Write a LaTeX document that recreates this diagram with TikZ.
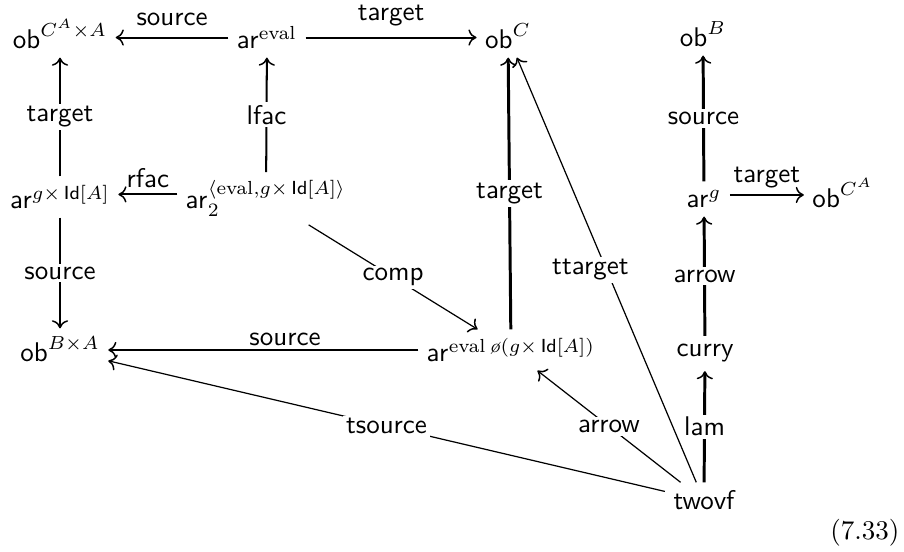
\documentclass[tikz,border=0pt]{standalone}
\usepackage{amsmath}
\usetikzlibrary{arrows.meta}
\begin{document}
\begin{tikzpicture}[x=0.37pt,y=-0.37pt,
  >={Computer Modern Rightarrow[length=3pt,width=6pt,line width=0.55pt]},
  obj/.style={anchor=base,inner sep=3pt},
  lbl/.style={font=\sffamily,fill=white,inner sep=1pt},
  lblab/.style={font=\sffamily,above,inner sep=2pt},
  med/.style={->,line width=0.75pt},
  thk/.style={->,line width=1.1pt},
  thn/.style={->,line width=0.45pt}]
\useasboundingbox (0,0) rectangle (904,552);
\node[obj] (obCAA) at (60,49) {$\mathsf{ob}^{C^A\times A}$};
\node[obj] (areval) at (267,49) {$\mathsf{ar}^{\mathrm{eval}}$};
\node[obj] (obC) at (508,49) {$\mathsf{ob}^{C}$};
\node[obj] (obB) at (703,47) {$\mathsf{ob}^{B}$};
\node[obj] (argId) at (60,209) {$\mathsf{ar}^{g\times\,\mathsf{Id}[A]}$};
\node[obj] (ar2) at (266,209) {$\mathsf{ar}_2^{\langle\mathrm{eval},g\times\,\mathsf{Id}[A]\rangle}$};
\node[obj] (arg) at (704,208) {$\mathsf{ar}^{g}$};
\node[obj] (obCA) at (843,208) {$\mathsf{ob}^{C^A}$};
\node[obj] (obBA) at (60,362) {$\mathsf{ob}^{B\times A}$};
\node[obj] (arcomp) at (511,362) {$\mathsf{ar}^{\mathrm{eval}\,\text{\itshape\o}(g\times\,\mathsf{Id}[A])}$};
\node[obj,font=\sffamily] (curry) at (705,357) {curry};
\node[obj,font=\sffamily] (twovf) at (704,510) {twovf};
\node[anchor=base east,inner sep=0pt] (eqno) at (900,540) {(7.33)};

\draw[med] (areval.west) -- (obCAA.east |- areval.west) node[lblab,midway,yshift=2pt] {source};
\draw[med] (areval.east) -- (obC.west |- areval.east) node[lblab,midway,yshift=2pt] {target};
\draw[med] (argId) -- (obCAA) node[lbl,midway] {target};
\draw[med] (ar2) -- (areval) node[lbl,midway] {lfac};
\draw[med] ([yshift=1.5pt]ar2.west) -- ([yshift=1.5pt]argId.east |- ar2.west) node[lblab,midway] {rfac};
\draw[med] (argId) -- (obBA) node[lbl,midway] {source};
\draw[thn] (ar2) -- (arcomp) node[lbl,midway] {comp};
\draw[thk] (arcomp) -- (obC) node[lbl,midway] {target};
\draw[thk] (arcomp.west) -- (obBA.east |- arcomp.west) node[lblab,pos=0.43,yshift=-1pt] {source};
\draw[thn] (twovf) -- (obBA) node[lbl,midway] {tsource};
\draw[thn] (twovf) -- (arcomp) node[lbl,midway] {arrow};
\draw[thn] (twovf) -- (obC) node[lbl,midway,xshift=-6] {ttarget};
\draw[thk] (twovf) -- (curry) node[lbl,midway] {lam};
\draw[thk] (curry) -- (arg) node[lbl,midway] {arrow};
\draw[thk] (arg) -- (obB) node[lbl,midway] {source};
\draw[med] ([yshift=1.5pt]arg.east) -- ([yshift=1.5pt]obCA.west |- arg.east) node[lblab,midway] {target};
\end{tikzpicture}
\end{document}
